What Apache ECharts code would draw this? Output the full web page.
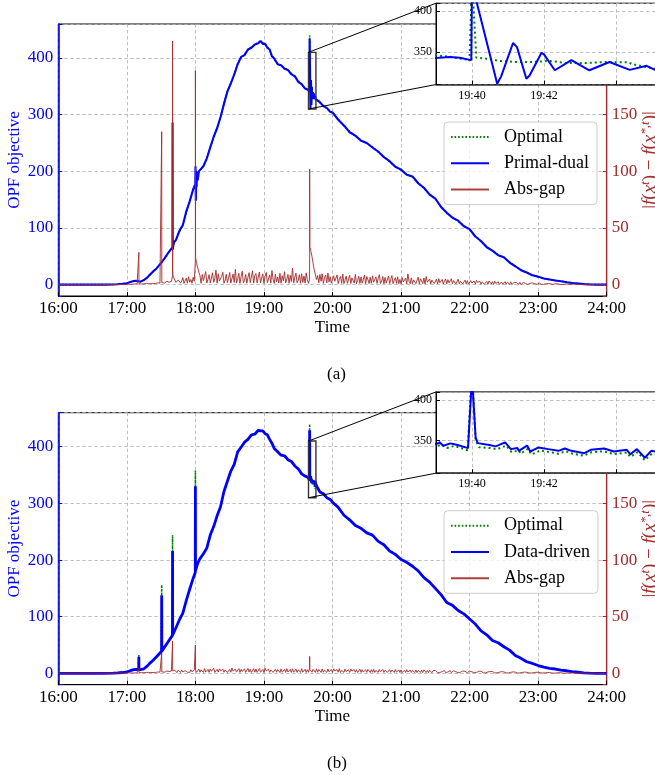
<!DOCTYPE html>
<html><head><meta charset="utf-8">
<script src="https://cdn.jsdelivr.net/npm/echarts@6/dist/echarts.min.js"></script>
<style>html,body{margin:0;padding:0;background:#fff}#c{width:655px;height:775px}</style>
</head><body><div id="c"></div>
<script>
// ---------------- DATA (x = minutes after 16:00) ----------------
const hourLabels = ['16:00','17:00','18:00','19:00','20:00','21:00','22:00','23:00','24:00'];
const leftTicks = [0,100,200,300,400];
const rightTicks = [0,50,100,150];
const insetXTicks = [220,222];
const insetXLabels = ['19:40','19:42'];
const insetYTicks = [350,400];
const zoomWindow = {t0:219, t1:225.5, v0:310, v1:410};

// Optimal objective (shared smooth part of both panels)
const optimalMain = [[0,0],[20,0],[40,0.1],[48,0.3],[52,0.8],[56,1.5],[60,2.5],[63,4.5],[66,6.5],[68,7],[70,6],[72,5.5],[75,8],[78,13],[80,17.5],[83,23],[86,29],[90,38],[93,46],[96,55],[100,67],[103,80],[106,94],[109,106],[112,128],[115,148],[118,168],[120,179],[122,195],[124,202],[127,210],[130,222],[133,243],[136,260],[139,277],[142,295],[145,320],[148,340],[151,356],[154,370],[157,390],[160,400],[163,407],[166,414],[169,420],[172,423],[175,428],[177,429],[179,427],[181,424],[183,420],[185,414],[187,405],[189,398],[192,390],[195,386],[198,383],[201,378],[204,373],[207,367],[210,360],[213,353],[216,347],[218.5,345]];
// Optimal spikes visible in panel (b)
const optimalSpikesB = [[70.4,6],[70.5,34],[70.6,6],[90.4,39],[90.5,156],[90.6,39],[99.9,67],[100,244],[100.1,68],[119.9,178],[120,358],[120.1,180]];
const optimalTail = [[226.5,328],[229,321],[232,316],[235,311],[238,306],[240,303],[245,292],[250,280],[255,270],[260,262],[265,255],[270,249],[275,243],[280,234],[285,226],[290,217],[295,209],[300,202],[305,195],[310,190],[315,180],[320,170],[325,160],[330,151],[335,138],[340,126],[345,119],[350,112],[355,104],[360,97],[365,86],[370,76],[375,67],[380,59],[385,53],[390,48],[395,40],[400,32],[405,26],[410,21],[415,17],[420,14],[425,11],[430,9],[435,7.5],[440,6],[445,4.5],[450,3],[455,2],[460,1],[465,0.5],[470,0.1],[480,0]];
const optimalFineA = [[219,346],[219.4,344],[219.85,340.6],[219.93,339],[220,440],[220.12,343],[220.4,341.8],[220.77,339],[221.23,337.7],[221.7,337.7],[222.15,339],[222.6,336.5],[223.15,336.5],[223.7,337.7],[224.35,337.3],[224.45,335],[225.08,329.5],[225.6,330]];
const optimalFineB = [[219,343],[219.15,345],[219.3,341],[219.5,343.5],[219.7,341],[219.88,338],[220,440],[220.1,350],[220.2,342],[220.5,341],[220.7,339.5],[220.95,344],[221.1,336],[221.3,338],[221.35,334],[221.55,340],[221.65,333],[221.9,338],[222.15,336],[222.4,334],[222.6,337],[222.8,334],[223.1,331.5],[223.3,335.5],[223.65,337],[223.95,333.5],[224.3,335.5],[224.4,330],[224.6,336],[224.8,326],[225,334],[225.3,332],[225.6,330]];

// Primal-dual (panel a)
const primalDualMain = [[0,0],[20,0],[40,0.1],[48,0.3],[52,0.8],[56,1.6],[60,2.6],[63,4.6],[66,6.4],[68,6.9],[70,6],[72,5.3],[75,8.2],[78,12.8],[80,17.2],[83,23.4],[86,28.6],[90,38.5],[93,46.5],[96,55.5],[99.9,66],[100,286],[100.15,62],[101,74],[103,79],[106,95],[109,105],[112,129],[115,147],[118,168],[119.9,177],[120.1,209],[120.4,148],[120.7,201],[121,172],[121.5,199],[122,184],[123,200],[124,203],[127,209],[130,223],[133,242],[136,261],[139,276],[142,296],[145,319],[148,341],[151,355],[154,371],[157,389],[160,402],[163,405],[166,415],[169,418],[172,424],[175,426],[177,430],[179,425],[181,425],[183,418],[185,415],[187,403],[189,399],[192,389],[195,387],[198,381],[201,379],[204,371],[207,368],[210,358],[213,354],[216,346],[218.5,344]];
const primalDualFine = [[219,342.6],[219.38,343.9],[219.66,343],[219.98,340],[220,434],[220.7,311],[220.81,320],[221.14,361],[221.25,356],[221.51,317],[221.6,321],[221.93,349],[222,347],[222.3,327.5],[222.76,340],[223.26,327.5],[223.82,337.7],[224.38,328],[224.85,333],[225.08,328],[225.6,330]];
const primalDualTail = [[226.5,327],[229,322],[232,315],[235,312],[238,305],[240,304],[245,291],[250,281],[255,269],[260,263],[265,254],[270,250],[275,242],[280,235],[285,225],[290,218],[295,208],[300,203],[305,194],[310,191],[315,179],[320,171],[325,159],[330,152],[335,137],[340,127],[345,118],[350,113],[355,103],[360,98],[365,85],[370,77],[375,66],[380,60],[385,52],[390,48.5],[395,39],[400,32.5],[405,25.5],[410,21.5],[415,16.5],[420,14.2],[425,10.8],[430,9.1],[435,7.3],[440,6],[445,4.4],[450,3],[455,2],[460,1],[465,0.5],[470,0.1],[480,0]];

// Data-driven (panel b)
const dataDrivenMain = [[0,0],[20,0],[40,0.1],[48,0.3],[52,0.8],[56,1.5],[60,2.6],[63,4.7],[66,6.6],[68,7.1],[70.4,6.1],[70.5,29.4],[70.6,6.1],[72,5.6],[75,8.1],[78,13.2],[80,17.6],[83,23.2],[86,29.3],[90.4,39],[90.5,138],[90.6,39],[93,46.3],[96,55.2],[99.9,67],[100,216],[100.1,68],[103,80.5],[106,94.5],[109,106.5],[112,128.5],[115,148.5],[118,167.5],[119.9,178],[120,330],[120.1,181],[122,194],[124,202.5],[127,211],[130,221],[133,244],[136,259],[139,278],[142,294],[145,321],[148,339],[151,357],[154,369],[157,391],[160,399],[163,408],[166,413],[169,421],[172,422],[175,429],[177,428],[179,428],[181,423],[183,421],[185,413],[187,406],[189,397],[192,391],[195,385],[198,384],[201,377],[204,374],[207,366],[210,361],[213,352],[216,348],[218.5,346]];
const dataDrivenFine = [[219,345.8],[219.1,348],[219.2,343.8],[219.4,346.7],[219.6,344.6],[219.89,340.8],[220,429],[220.1,354],[220.16,347],[220.48,344.6],[220.66,343],[220.92,348],[221.08,339.6],[221.26,341],[221.3,337.5],[221.53,344],[221.62,336.7],[221.85,341.7],[222.12,339.6],[222.4,337.5],[222.58,340.4],[222.76,337.5],[223.12,334.6],[223.3,338.8],[223.67,340.4],[223.94,336.7],[224.3,338.8],[224.4,333.3],[224.58,339.6],[224.8,329],[224.98,337.5],[225.3,335],[225.6,333]];
const dataDrivenTail = [[226.5,329],[229,320],[232,317],[235,310],[238,307],[240,302],[245,293],[250,279],[255,271],[260,261],[265,256],[270,248],[275,244],[280,233],[285,227],[290,216],[295,210],[300,201],[305,196],[310,189],[315,181],[320,169],[325,161],[330,150],[335,139],[340,125],[345,120],[350,111],[355,105],[360,96],[365,87],[370,75],[375,68],[380,58],[385,54],[390,47],[395,41],[400,31.5],[405,26.5],[410,20.5],[415,17.5],[420,13.8],[425,11.2],[430,8.9],[435,7.7],[440,5.9],[445,4.6],[450,3],[455,2],[460,1],[465,0.5],[470,0.1],[480,0]];

// Abs-gap: quiet start, then noise sampled every minute from 17:00, plus spikes
const gapQuiet = [[0,0.2],[30,0.2],[59,0.2]];
const gapNoiseStart = 60, gapNoiseStep = 1;
const gapNoiseA = [
0.3,0.5,0.4,0.3,0.6,0.4,0.5,0.7,0.4,0.6, 0.8,0.5,0.9,0.6,1.0,0.7,0.8,1.2,0.6,1.0, 1.1,0.8,1.3,0.9,1.5,1.0,1.2,1.6,0.9,1.4,
1.8,0.9,2.6,1.4,1.0,3.0,1.6,2.2,1.1,2.8,
8.0,6.0,4.8,2.0,1.0,4.2,5.5,1.4,3.2,6.2, 1.1,2.5,5.8,1.3,7.0,2.2,4.5,1.2,6.5,3.0,
22.0,19.0,15.0,11.0,8.0,1.2,9.0,3.5,1.8,11.5,
1.4,4.8,8.8,1.5,2.6,10.5,2.0,5.5,12.8,1.3,
9.6,3.2,1.6,7.4,11.0,1.2,4.0,9.2,1.8,6.0,
10.8,1.4,2.8,9.4,2.0,13.5,1.5,5.2,10.0,1.2,
7.0,11.8,1.7,3.6,9.0,1.3,6.4,10.6,1.9,2.4,
12.2,1.4,8.0,9.8,1.6,3.0,11.2,1.5,5.8,9.5,
1.2,7.2,10.8,1.8,2.2,8.6,1.4,12.5,4.6,1.1,
9.2,2.6,6.8,1.5,10.0,1.3,7.8,3.4,11.4,1.6,
5.0,9.0,1.2,8.2,2.8,14.5,1.4,6.6,10.2,1.7,
3.8,8.8,1.3,9.6,2.0,7.6,1.5,10.4,4.2,1.2,
28.0,30.0,25.0,19.0,13.0,9.0,4.5,8.0,1.6,9.0, 3.0,9.6,1.2,6.4,8.4,1.5,10.2,2.4,7.0,1.3,
1.1,7.8,3.0,1.4,8.6,1.0,5.2,7.2,1.3,9.5,
0.9,4.0,7.6,1.2,2.4,8.2,1.0,6.0,7.0,1.4,
9.0,0.9,3.6,7.4,1.1,6.8,1.3,2.8,8.4,0.8,
7.1,4.4,1.0,6.6,1.2,7.8,2.2,0.9,6.9,1.1,
5.6,8.8,1.0,3.2,7.2,0.8,6.4,1.3,2.6,7.6,
1.0,5.0,8.0,0.9,3.8,6.2,1.2,7.0,0.8,4.6,
0.8,6.2,2.4,1.0,5.8,0.7,9.5,3.0,0.9,6.0,
0.8,4.2,5.4,1.0,2.0,6.6,0.7,5.2,3.4,0.9,
5.9,0.6,7.2,2.2,0.8,5.0,0.7,4.0,5.6,0.9,
2.6,4.8,0.6,5.3,1.8,0.8,4.6,0.6,3.2,5.0,
0.7,4.4,1.6,0.6,5.2,0.8,3.6,4.2,0.6,2.2,
4.8,0.7,3.0,4.4,0.6,1.8,4.0,0.7,3.6,0.5,
0.5,3.6,1.4,0.6,3.2,0.4,3.8,2.0,0.5,3.0,
0.4,2.4,3.4,0.5,1.2,2.9,0.4,3.3,1.6,0.5,
2.7,0.3,3.1,1.0,0.4,2.6,0.3,2.0,2.4,0.4,
1.4,2.7,0.3,2.2,0.9,0.3,2.5,0.2,1.6,2.0,
0.3,1.8,0.8,0.3,2.1,0.2,1.5,1.9,0.3,1.0,
1.7,0.2,1.4,1.2,0.2,1.6,0.3,0.9,1.5,0.2,
0.3,1.4,0.6,0.2,1.2,0.3,1.5,0.8,0.2,1.1,
0.2,0.7,1.0,0.2,0.5,0.9,0.1,0.8,0.4,0.2,
0.7,0.1,0.6,0.3,0.1,0.6,0.2,0.4,0.5,0.1,
0.3,0.5,0.1,0.4,0.2,0.1,0.4,0.1,0.3,0.3,
0.1,0.3,0.2,0.1,0.3,0.1,0.2,0.2,0.1,0.2,
0.1,0.2,0.1,0.1,0.2,0.1,0.1,0.1,0.1,0.1,0.1];
const gapSpikesA = [[70.4,0.8],[70.5,28.5],[70.6,0.8],[90.4,1.8],[90.5,135],[90.6,1.8],[99.9,2.5],[100,215],[100.15,9],[119.9,4],[120,189],[120.15,24],[219.9,5],[220,102],[220.15,33]];
const gapNoiseB = [
0.3,0.4,0.3,0.5,0.4,0.3,0.5,0.4,0.6,0.4, 0.5,0.7,0.5,0.6,0.8,0.6,0.7,0.9,0.6,0.8, 0.9,0.7,1.0,0.8,1.1,0.8,1.0,1.2,0.9,1.1,
1.3,0.7,1.8,1.0,0.7,2.0,1.2,1.6,0.8,2.1,
2.4,0.8,2.6,1.5,0.7,2.8,1.9,0.9,3.0,1.2, 0.8,2.4,3.1,1.0,2.0,0.9,3.2,1.4,0.9,2.9,
3.4,0.9,2.2,3.8,1.0,3.2,1.6,0.8,4.2,1.1,
2.6,3.6,0.9,3.9,1.8,1.0,4.5,0.8,2.4,3.5,
1.1,4.0,2.2,0.9,3.7,1.0,3.0,4.1,0.8,1.8,
3.6,1.0,4.8,2.0,0.9,3.8,1.1,2.8,4.2,0.8,
3.5,1.6,1.0,4.0,0.9,2.4,4.4,1.1,3.6,0.8,
2.0,4.1,1.0,3.8,0.9,2.6,4.3,1.0,1.8,3.5,
0.8,4.6,2.2,1.0,3.7,0.9,3.0,4.0,0.8,1.6,
3.6,1.0,3.4,2.4,0.8,3.9,1.0,2.0,3.5,0.9,
4.2,1.2,2.8,3.6,0.8,4.0,1.0,2.2,3.8,0.9,
3.2,1.8,0.9,4.1,1.0,2.6,3.7,0.8,3.3,1.0,
4.5,3.8,1.0,3.6,2.4,0.9,4.0,1.0,3.4,2.0, 0.8,3.9,1.0,2.8,3.5,0.9,3.8,1.4,0.8,3.6,
0.8,4.0,2.2,0.9,3.4,1.0,4.2,0.8,2.6,3.5,
0.9,3.8,1.6,0.8,3.3,0.9,3.9,2.0,0.8,3.4,
1.0,3.2,0.8,2.4,3.7,0.9,3.3,1.2,0.8,3.1,
0.9,3.5,2.0,0.8,3.2,1.0,3.6,0.8,2.6,3.0,
0.9,3.4,1.4,0.8,3.5,0.9,2.8,3.2,0.8,1.8,
3.3,0.9,3.0,2.2,0.8,3.4,1.0,2.4,3.1,0.8,
3.0,0.7,2.2,2.8,0.8,3.3,1.2,0.7,2.9,0.8,
2.7,1.6,0.7,3.0,0.7,2.6,2.0,0.8,2.8,0.7,
3.1,1.4,0.7,2.5,0.7,2.7,1.8,0.6,2.4,0.7,
2.6,1.0,0.6,2.3,0.7,2.4,1.6,0.6,2.5,0.7,
2.2,1.2,0.6,2.4,0.6,2.0,2.3,0.6,1.4,2.2,
0.6,2.3,1.0,0.6,2.1,0.6,1.8,2.2,0.6,1.2,
2.0,0.5,1.4,1.9,0.6,2.1,0.8,0.5,1.8,0.6,
1.9,1.0,0.5,1.7,0.5,1.8,1.2,0.5,1.6,0.5,
1.7,0.8,0.4,1.5,0.5,1.4,1.0,0.4,1.5,0.4,
1.3,0.7,0.4,1.4,0.4,1.2,0.9,0.4,1.3,0.4,
1.1,0.6,0.3,1.2,0.4,1.0,0.8,0.3,1.1,0.3,
1.0,0.5,0.3,1.0,0.3,0.9,0.6,0.3,0.9,0.3,
1.0,0.3,0.6,0.9,0.3,1.0,0.4,0.3,0.8,0.3,
0.8,0.4,0.3,0.7,0.2,0.7,0.4,0.2,0.6,0.2,
0.5,0.3,0.2,0.5,0.2,0.4,0.3,0.2,0.4,0.2,
0.4,0.2,0.2,0.3,0.2,0.3,0.2,0.2,0.3,0.1,
0.3,0.2,0.1,0.3,0.1,0.2,0.2,0.1,0.2,0.1,
0.2,0.1,0.1,0.2,0.1,0.1,0.1,0.1,0.1,0.1,0.1];
const gapSpikesB = [[70.4,0.6],[70.5,4.4],[70.6,0.6],[90.4,1.3],[90.5,18],[90.6,1.3],[99.9,2],[100,28.6],[100.1,2.2],[119.9,2.5],[120,25],[120.1,3],[219.9,2.5],[220,15],[220.1,3.5]];

// ---------------- BUILD ----------------
const FONT = 'Liberation Serif';
const BLUE = '#0000ff', GREEN = '#008000', BROWN = '#a52a2a';
const byTime = (a,b) => a[0]-b[0];
const noisePts = (vals) => vals.map((v,i) => [gapNoiseStart + i*gapNoiseStep, v]);
const optimalA = optimalMain.concat(optimalFineA, optimalTail);
const optimalB = optimalMain.concat(optimalSpikesB).sort(byTime).concat(optimalFineB, optimalTail);
const primalDual = primalDualMain.concat(primalDualFine, primalDualTail);
const dataDriven = dataDrivenMain.concat(dataDrivenFine, dataDrivenTail);
const gapA = gapQuiet.concat(noisePts(gapNoiseA), gapSpikesA).sort(byTime);
const gapB = gapQuiet.concat(noisePts(gapNoiseB), gapSpikesB).sort(byTime);

const mainLeft = 58.3, mainWidth = 548.4, mainHeight = 272;
const panelTops = [24, 412.7];
const insetLeft = 436, insetWidth = 234, insetHeight = 81.3, insetRise = 20.8;

const chart = echarts.init(document.getElementById('c'), null, {renderer:'canvas'});
const grids = [], xAxes = [], yAxes = [], series = [], legends = [], titles = [];
const splitStyle = {show:true, lineStyle:{color:'#b0b0b0', type:[3.5,2.5], width:0.8}};
const panels = [
  {opt: optimalA, est: primalDual, estName:'Primal-dual', gap: gapA, estWidth: 2.1},
  {opt: optimalB, est: dataDriven, estName:'Data-driven', gap: gapB, estWidth: 2.8}
];
panels.forEach((p, k) => {
  const top = panelTops[k];
  const g = grids.length;
  grids.push({left: mainLeft, top: top, width: mainWidth, height: mainHeight, show:true,
    borderColor:'#000', borderWidth:1, backgroundColor:'rgba(0,0,0,0)', outerBoundsMode:'none', z:0});
  grids.push({left: insetLeft, top: top - insetRise, width: insetWidth, height: insetHeight, show:true,
    borderColor:'#000', borderWidth:1, backgroundColor:'#fff', outerBoundsMode:'none', z:10});
  const xi = xAxes.length;
  xAxes.push({type:'value', gridIndex:g, min:0, max:480, interval:60,
    axisLine:{show:true, onZero:false, lineStyle:{color:'#000', width:1}},
    axisTick:{show:true, inside:true, length:4, lineStyle:{color:'#000'}},
    axisLabel:{margin:4, color:'#000', fontFamily:FONT, fontSize:17,
      formatter: v => hourLabels[Math.round(v/60)] || ''},
    splitLine: splitStyle,
    name:'Time', nameLocation:'middle', nameGap:23, nameMoveOverlap:false,
    nameTextStyle:{color:'#000', fontFamily:FONT, fontSize:17}});
  xAxes.push({type:'value', gridIndex:g+1, min:zoomWindow.t0, max:zoomWindow.t1, minInterval:2, maxInterval:2, z:11,
    axisLine:{show:true, onZero:false, lineStyle:{color:'#333', width:1.5}},
    axisTick:{show:true, inside:true, length:4, lineStyle:{color:'#000'}},
    axisLabel:{margin:5, color:'#000', fontFamily:FONT, fontSize:12, showMinLabel:true, showMaxLabel:true,
      formatter: v => { const i = insetXTicks.findIndex(t => Math.abs(t - v) < 1e-6); return i >= 0 ? insetXLabels[i] : ''; }},
    splitLine: splitStyle});
  const yi = yAxes.length;
  yAxes.push({type:'value', gridIndex:g, min:-20, max:460, minInterval:100, maxInterval:100, position:'left',
    axisLine:{show:true, onZero:false, lineStyle:{color:BLUE, width:1.6}},
    axisTick:{show:true, inside:true, length:4, lineStyle:{color:BLUE}},
    axisLabel:{margin:5, color:BLUE, fontFamily:FONT, fontSize:17,
      formatter: v => leftTicks.includes(v) ? String(v) : ''},
    splitLine: splitStyle,
    name:'OPF objective', nameLocation:'middle', nameGap:35, nameRotate:90, nameMoveOverlap:false,
    nameTextStyle:{color:BLUE, fontFamily:FONT, fontSize:17}});
  yAxes.push({type:'value', gridIndex:g, min:-10, max:230, minInterval:50, maxInterval:50, position:'right',
    axisLine:{show:true, onZero:false, lineStyle:{color:BROWN, width:1.2}},
    axisTick:{show:true, inside:true, length:4, lineStyle:{color:BROWN}},
    axisLabel:{margin:5, color:BROWN, fontFamily:FONT, fontSize:17,
      formatter: v => rightTicks.includes(v) ? String(v) : ''},
    splitLine:{show:false},
    name:'|{i|f}({i|x}{s|t}) − {i|f}({i|x}{s|*,t})|', nameLocation:'middle', nameGap:32, nameRotate:90, nameMoveOverlap:false,
    nameTextStyle:{color:BROWN, fontFamily:FONT, fontSize:19,
      rich:{i:{fontStyle:'italic', fontFamily:FONT, fontSize:19, color:BROWN},
            s:{fontStyle:'italic', fontFamily:FONT, fontSize:13, color:BROWN, padding:[0,0,10,0]}}}});
  yAxes.push({type:'value', gridIndex:g+1, min:zoomWindow.v0, max:zoomWindow.v1, minInterval:50, maxInterval:50, z:11,
    axisLine:{show:true, onZero:false, lineStyle:{color:'#000', width:1}},
    axisTick:{show:true, inside:true, length:4, lineStyle:{color:'#000'}},
    axisLabel:{margin:4, color:'#000', fontFamily:FONT, fontSize:12,
      formatter: v => insetYTicks.includes(v) ? String(v) : ''},
    splitLine: splitStyle});
  const lineCommon = {type:'line', showSymbol:false, symbol:'none', animation:false, sampling:null};
  series.push(Object.assign({}, lineCommon, {name:'Optimal', xAxisIndex:xi, yAxisIndex:yi, data:p.opt, z:2,
    lineStyle:{color:GREEN, width:1.6, type:[1.6,2]}, itemStyle:{color:GREEN}}));
  series.push(Object.assign({}, lineCommon, {name:p.estName, xAxisIndex:xi, yAxisIndex:yi, data:p.est, z:3,
    lineStyle:{color:BLUE, width:p.estWidth}, itemStyle:{color:BLUE}}));
  series.push(Object.assign({}, lineCommon, {name:'Abs-gap', xAxisIndex:xi, yAxisIndex:yi+1, data:p.gap, z:4,
    lineStyle:{color:BROWN, width:1, opacity:0.9}, itemStyle:{color:BROWN}}));
  series.push(Object.assign({}, lineCommon, {name:'inset-opt-'+k, xAxisIndex:xi+1, yAxisIndex:yi+2, data:p.opt, z:12,
    lineStyle:{color:GREEN, width:2, type:[2,3]}}));
  series.push(Object.assign({}, lineCommon, {name:'inset-est-'+k, xAxisIndex:xi+1, yAxisIndex:yi+2, data:p.est, z:13,
    lineStyle:{color:BLUE, width:2}}));
  legends.push({orient:'vertical', left:444, top: top + 98, padding:[6,8,6,6], itemGap:8.3,
    itemWidth:38, itemHeight:12, data:['Optimal', p.estName, 'Abs-gap'],
    backgroundColor:'rgba(255,255,255,0.8)', borderColor:'#cccccc', borderWidth:1, borderRadius:4,
    itemStyle:{opacity:0}, selectedMode:false, z:6,
    textStyle:{fontFamily:FONT, fontSize:18, lineHeight:18, color:'#000', padding:[0,0,0,10]}});
  titles.push({text: k === 0 ? '(a)' : '(b)', left: 322, top: top + 337,
    textStyle:{fontFamily:FONT, fontSize:17, fontWeight:'normal', color:'#000'}});
});

chart.setOption({animation:false, backgroundColor:'#fff', title:titles, grid:grids, xAxis:xAxes, yAxis:yAxes, legend:legends, series:series});

// zoom box + connectors, positioned through the axes' own scales
const graphics = [];
panels.forEach((p, k) => {
  const xi = 2*k, yi = 3*k;
  const main = (pt) => chart.convertToPixel({xAxisIndex:xi, yAxisIndex:yi}, pt);
  const ins = (pt) => chart.convertToPixel({xAxisIndex:xi+1, yAxisIndex:yi+2}, pt);
  const a = main([zoomWindow.t0, zoomWindow.v1]), b = main([zoomWindow.t1, zoomWindow.v0]);
  const c1 = ins([zoomWindow.t0, zoomWindow.v1]), c2 = ins([zoomWindow.t0, zoomWindow.v0]);
  graphics.push({type:'rect', shape:{x:a[0], y:a[1], width:b[0]-a[0], height:b[1]-a[1]},
    style:{fill:'none', stroke:'#333', lineWidth:1.4}, z:8, silent:true});
  graphics.push({type:'line', shape:{x1:a[0], y1:a[1], x2:c1[0], y2:c1[1]}, style:{stroke:'#000', lineWidth:1}, z:8, silent:true});
  graphics.push({type:'line', shape:{x1:a[0], y1:b[1], x2:c2[0], y2:c2[1]}, style:{stroke:'#000', lineWidth:1}, z:8, silent:true});
});
chart.setOption({graphic: graphics});
</script></body></html>
